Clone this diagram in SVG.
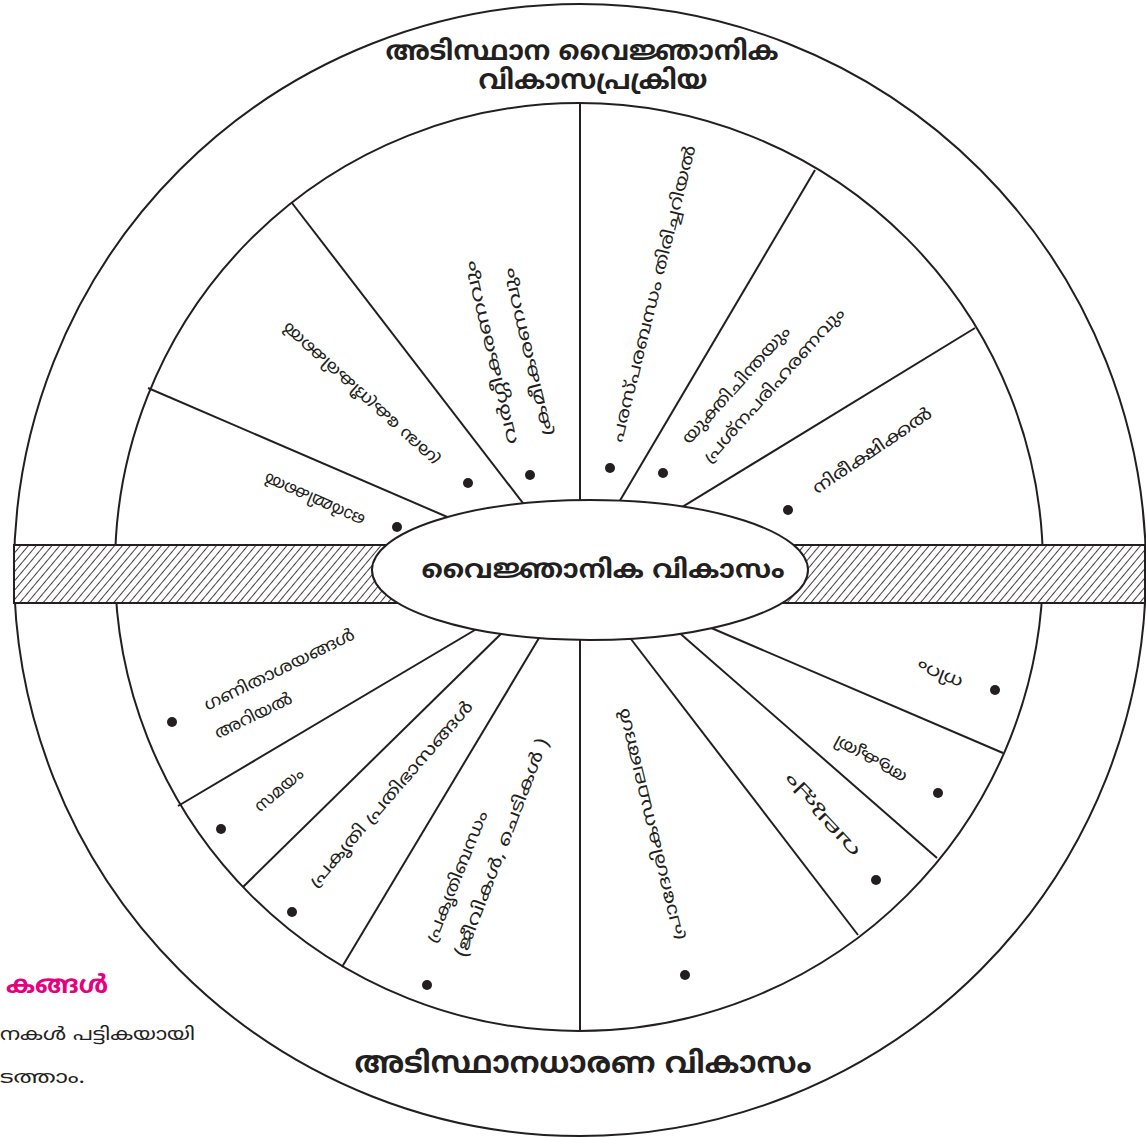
<svg xmlns="http://www.w3.org/2000/svg" width="1146" height="1137" viewBox="0 0 1146 1137">
<defs>
<pattern id="hatch" patternUnits="userSpaceOnUse" width="6" height="10" patternTransform="rotate(40)">
<rect width="6" height="10" fill="#fff"/>
<line x1="0" y1="-1" x2="0" y2="11" stroke="#231f20" stroke-width="1.7"/>
</pattern>
</defs>
<style>
.ln{stroke:#231f20;stroke-width:2;fill:none}
.ml{font-family:"Noto Sans Malayalam","Noto Sans",sans-serif;fill:#231f20}
.t{font-size:17px}
.b{font-weight:bold}
.dot{fill:#231f20}
</style>
<rect width="1146" height="1137" fill="#fff"/>
<g id="outer-ring"><circle cx="580" cy="570" r="566" class="ln"/></g>
<g id="inner-ring"><circle cx="579" cy="567" r="464" class="ln"/></g>
<g id="connectors" class="ln">
<line x1="580" y1="103" x2="580" y2="515"/>
<line x1="815" y1="170" x2="615" y2="509"/>
<line x1="975" y1="328" x2="674" y2="512"/>
<line x1="292" y1="203" x2="529" y2="511"/>
<line x1="148" y1="388" x2="459" y2="522"/>
<line x1="580" y1="1031" x2="580" y2="625"/>
<line x1="858" y1="935" x2="624" y2="630"/>
<line x1="937" y1="858" x2="675" y2="629"/>
<line x1="1003" y1="753" x2="709" y2="627"/>
<line x1="342" y1="967" x2="545" y2="628"/>
<line x1="243" y1="887" x2="510" y2="625"/>
<line x1="178" y1="806" x2="485" y2="624"/>
</g>
<g id="band"><rect x="14" y="545" width="1131" height="58" fill="url(#hatch)" stroke="#231f20" stroke-width="2"/></g>
<g id="center-node">
<ellipse cx="590" cy="570" rx="218" ry="70" fill="#fff" stroke="#231f20" stroke-width="2"/>
<text class="ml b" x="603" y="578" font-size="26" text-anchor="middle" textLength="363" lengthAdjust="spacingAndGlyphs">വൈജ്ഞാനിക  വികാസം</text>
</g>
<g id="title-top">
<text class="ml b" font-size="27" text-anchor="middle"><tspan x="582" y="60" textLength="393" lengthAdjust="spacingAndGlyphs">അടിസ്ഥാന  വൈജ്ഞാനിക</tspan><tspan x="593" y="89" textLength="229" lengthAdjust="spacingAndGlyphs">വികാസപ്രക്രിയ</tspan></text>
</g>
<g id="title-bottom">
<text class="ml b" x="583" y="1073" font-size="30" text-anchor="middle" textLength="457" lengthAdjust="spacingAndGlyphs">അടിസ്ഥാനധാരണ  വികാസം</text>
</g>
<g id="side-note">
<text class="ml b" x="6" y="993" font-size="25" style="fill:#e6007e" textLength="102" lengthAdjust="spacingAndGlyphs">കങ്ങൾ</text>
<text class="ml" x="0" y="1040" font-size="18" textLength="195" lengthAdjust="spacingAndGlyphs">നകൾ പട്ടികയായി</text>
<text class="ml" x="0" y="1083" font-size="18" textLength="85" lengthAdjust="spacingAndGlyphs">ടത്താം.</text>
</g>
<g id="label-nireekshikkal"><circle class="dot" cx="788" cy="510" r="5"/><g transform="translate(873,452) rotate(-34)"><text class="ml t" text-anchor="middle" dominant-baseline="central" textLength="140" lengthAdjust="spacingAndGlyphs">നിരീക്ഷിക്കൽ</text></g></g>
<g id="label-yukthi"><circle class="dot" cx="663" cy="473" r="5"/><g transform="translate(755,387) rotate(-48)"><text class="ml t" x="-87" y="-14" dominant-baseline="central" textLength="152" lengthAdjust="spacingAndGlyphs">യുക്തിചിന്തയും</text><text class="ml t" x="-87" y="14" dominant-baseline="central" textLength="202" lengthAdjust="spacingAndGlyphs">പ്രശ്നപരിഹരണവും</text></g></g>
<g id="label-parasparam"><circle class="dot" cx="610" cy="468" r="5"/><g transform="translate(655,294) rotate(-76)"><text class="ml t" text-anchor="middle" dominant-baseline="central" textLength="305" lengthAdjust="spacingAndGlyphs">പരസ്പരബന്ധം തിരിച്ചറിയൽ</text></g></g>
<g id="label-vargeekaranam"><circle class="dot" cx="530" cy="475" r="5"/><g transform="translate(510,351) rotate(-103.4)"><text class="ml t" x="-91" y="-18" dominant-baseline="central" textLength="188" lengthAdjust="spacingAndGlyphs">വർഗ്ഗീകരണവും</text><text class="ml t" x="-91" y="18" dominant-baseline="central" textLength="172" lengthAdjust="spacingAndGlyphs">ക്രമീകരണവും</text></g></g>
<g id="label-sraddha"><circle class="dot" cx="468" cy="483" r="5"/><g transform="translate(362,393) rotate(-138)"><text class="ml t" text-anchor="middle" dominant-baseline="central" textLength="205" lengthAdjust="spacingAndGlyphs">ശ്രദ്ധ കേന്ദ്രീകരിക്കൽ</text></g></g>
<g id="label-ormmikkal"><circle class="dot" cx="397" cy="527" r="5"/><g transform="translate(315,498) rotate(-156)"><text class="ml t" text-anchor="middle" dominant-baseline="central" textLength="108" lengthAdjust="spacingAndGlyphs">ഓർമ്മിക്കൽ</text></g></g>
<g id="label-ganitham"><circle class="dot" cx="172" cy="722" r="5"/><g transform="translate(280,671) rotate(-26)"><text class="ml t" text-anchor="middle" dominant-baseline="central" textLength="165" lengthAdjust="spacingAndGlyphs">ഗണിതാശയങ്ങൾ</text></g><g transform="translate(254,717) rotate(-26)"><text class="ml t" text-anchor="middle" dominant-baseline="central" textLength="84" lengthAdjust="spacingAndGlyphs">അറിയൽ</text></g></g>
<g id="label-samayam"><circle class="dot" cx="221" cy="829" r="5"/><g transform="translate(280,791) rotate(-40)"><text class="ml t" text-anchor="middle" dominant-baseline="central" textLength="58" lengthAdjust="spacingAndGlyphs">സമയം</text></g></g>
<g id="label-prakrithi-prathibhasam"><circle class="dot" cx="292" cy="912" r="5"/><g transform="translate(392,795) rotate(-49)"><text class="ml t" text-anchor="middle" dominant-baseline="central" textLength="240" lengthAdjust="spacingAndGlyphs">പ്രകൃതി പ്രതിഭാസങ്ങൾ</text></g></g>
<g id="label-prakrithibandham"><circle class="dot" cx="427" cy="985" r="5"/><g transform="translate(458,877) rotate(-68)"><text class="ml t" text-anchor="middle" dominant-baseline="central" textLength="140" lengthAdjust="spacingAndGlyphs">പ്രകൃതിബന്ധം</text></g><g transform="translate(503,848) rotate(-69)"><text class="ml t" text-anchor="middle" dominant-baseline="central" textLength="232" lengthAdjust="spacingAndGlyphs">(ജീവികൾ, ചെടികൾ )</text></g></g>
<g id="label-pradeshikam"><circle class="dot" cx="685" cy="975" r="5"/><g transform="translate(652,824) rotate(-103.5)"><text class="ml t" text-anchor="middle" dominant-baseline="central" textLength="238" lengthAdjust="spacingAndGlyphs">പ്രാദേശികസ്ഥലങ്ങൾ</text></g></g>
<g id="label-valuppam"><circle class="dot" cx="876" cy="880" r="5"/><g transform="translate(822,815) rotate(-133)"><text class="ml t" text-anchor="middle" dominant-baseline="central" textLength="105" lengthAdjust="spacingAndGlyphs">വലുപ്പം</text></g></g>
<g id="label-akrithi"><circle class="dot" cx="938" cy="793" r="5"/><g transform="translate(871,758) rotate(-151)"><text class="ml t" text-anchor="middle" dominant-baseline="central" textLength="80" lengthAdjust="spacingAndGlyphs">ആകൃതി</text></g></g>
<g id="label-niram"><circle class="dot" cx="995" cy="690" r="5"/><g transform="translate(940,673) rotate(-158)"><text class="ml t" text-anchor="middle" dominant-baseline="central" textLength="48" lengthAdjust="spacingAndGlyphs">നിറം</text></g></g>
</svg>
